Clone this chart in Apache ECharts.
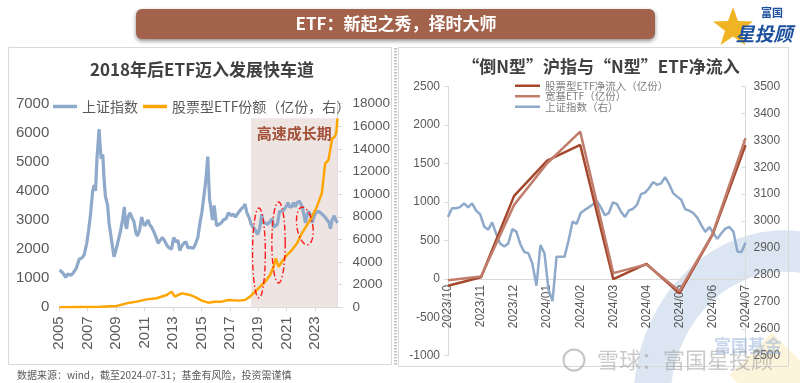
<!DOCTYPE html>
<html><head><meta charset="utf-8">
<script src="https://cdn.jsdelivr.net/npm/echarts@6/dist/echarts.min.js"></script>
<style>html,body{margin:0;padding:0;background:#fff}#c{width:800px;height:383px}</style>
</head><body><div id="c"></div>
<script>
const FONT = '"Liberation Sans","Noto Sans CJK SC",sans-serif';
const CJK = '"Noto Sans CJK SC","Liberation Sans",sans-serif';

// ---------- left chart data ----------
const leftTitle = '2018年后ETF迈入发展快车道';
const shIndexLong = [[2005.02,1282],[2005.25,1180],[2005.45,1030],[2005.6,1150],[2005.8,1100],[2005.95,1160],[2006.2,1350],[2006.4,1650],[2006.6,1700],[2006.75,1800],[2006.93,2200],[2007.05,2600],[2007.2,3200],[2007.35,4000],[2007.45,4200],[2007.55,4000],[2007.65,5100],[2007.8,6124],[2007.88,5500],[2007.95,5100],[2008.06,5250],[2008.15,4400],[2008.25,3800],[2008.4,3500],[2008.5,2900],[2008.65,2400],[2008.8,1900],[2008.85,1740],[2008.95,1900],[2009.1,2200],[2009.3,2600],[2009.45,3000],[2009.58,3450],[2009.67,2800],[2009.74,2700],[2009.85,3100],[2009.97,3250],[2010.1,3100],[2010.25,2950],[2010.4,2550],[2010.5,2450],[2010.65,2650],[2010.8,3100],[2010.9,2900],[2011.02,2800],[2011.25,3000],[2011.35,2850],[2011.5,2750],[2011.65,2600],[2011.8,2420],[2011.95,2200],[2012.1,2300],[2012.25,2400],[2012.4,2300],[2012.55,2150],[2012.7,2050],[2012.9,2000],[2013.05,2400],[2013.2,2250],[2013.35,2300],[2013.48,1950],[2013.62,2100],[2013.75,2200],[2013.92,2250],[2014.05,2050],[2014.25,2050],[2014.45,2030],[2014.6,2200],[2014.75,2400],[2014.9,2900],[2015.03,3250],[2015.2,3900],[2015.33,4450],[2015.45,5180],[2015.52,4300],[2015.58,3700],[2015.7,3300],[2015.78,3000],[2015.9,3500],[2015.98,3550],[2016.07,2800],[2016.2,2750],[2016.4,2900],[2016.55,3000],[2016.75,3050],[2016.9,3250],[2017.1,3150],[2017.25,3200],[2017.4,3100],[2017.6,3250],[2017.8,3380],[2017.96,3450],[2018.07,3550],[2018.2,3250],[2018.35,3100],[2018.5,2850],[2018.65,2750],[2018.8,2650],[2018.95,2500],[2019.1,2700],[2019.25,3200],[2019.35,2900],[2019.5,2900],[2019.65,2850],[2019.84,2950],[2019.98,3050],[2020.08,2750],[2020.2,2800],[2020.35,2850],[2020.5,3300],[2020.65,3300],[2020.8,3350],[2020.95,3450],[2021.1,3600],[2021.2,3450],[2021.35,3450],[2021.49,3600],[2021.6,3450],[2021.75,3600],[2021.9,3650],[2022.0,3600],[2022.1,3450],[2022.25,3100],[2022.32,2900],[2022.45,3200],[2022.54,3300],[2022.7,3150],[2022.8,2900],[2022.92,3100],[2023.05,3250],[2023.25,3300],[2023.36,3350],[2023.5,3200],[2023.7,3100],[2023.85,3000],[2024.0,2900],[2024.08,2700],[2024.2,3000],[2024.35,3150],[2024.45,3000],[2024.58,2900]];
const etfShares = [[2005.0,0],[2007.9,50],[2009.04,115],[2009.74,350],[2010.45,500],[2011.15,700],[2011.85,800],[2012.56,1090],[2012.9,1380],[2013.13,940],[2013.6,1240],[2014.2,1090],[2014.64,850],[2015.03,590],[2015.49,410],[2015.96,500],[2016.43,500],[2016.9,640],[2017.6,590],[2018.07,640],[2018.43,940],[2018.78,1380],[2019.14,1820],[2019.49,2260],[2019.84,2850],[2020.08,3590],[2020.24,4330],[2020.43,3590],[2020.67,4030],[2021.02,4620],[2021.37,5060],[2021.73,5650],[2022.07,6540],[2022.43,7270],[2022.78,8000],[2023.13,8890],[2023.48,10100],[2023.71,12700],[2023.94,13000],[2024.2,14900],[2024.4,15100],[2024.5,15500],[2024.58,16700]];
const yearRange = [2005, 2024.58];
const growthPeriod = [2018.5, 2024.58];
const growthTop = 6500;
const growthLabel = '高速成长期';
// red dash-dot ellipses: centre year, centre value (left axis), half width (years), half height (value), tilt
const ellipseNotes = [
  {x:2019.05, y:1866, rx:0.45, ry:1546, tilt:0},
  {x:2020.43, y:2227, rx:0.47, ry:1392, tilt:0},
  {x:2022.28, y:2794, rx:0.56, ry:653, tilt:-0.15}
];

// ---------- right chart data ----------
const rightTitle = '“倒N型”沪指与“N型”ETF净流入';
const months = ['2023/10','2023/11','2023/12','2024/01','2024/02','2024/03','2024/04','2024/05','2024/06','2024/07'];
const stockEtfFlow = [-90,20,1078,1537,1740,-4,195,-190,570,1740];
const broadEtfFlow = [-20,30,961,1502,1913,74,185,-160,580,1827];
const shIndexDaily = [3015,3048,3048,3052,3066,3051,3066,3039,3025,2980,2968,2995,2952,2916,2906,2917,2970,2961,2914,2885,2880,2841,2760,2911,2880,2745,2703,2868,2868,2868,2929,2998,2990,3030,3041,3051,3062,3075,3052,3022,3030,3069,3064,3036,3015,3040,3045,3060,3100,3106,3122,3145,3135,3140,3163,3137,3104,3091,3079,3044,3039,3030,3013,2985,2960,2978,2955,2934,2955,2972,2978,2960,2886,2885,2920];
const flowRange = [-1000, 2500];

const chart = echarts.init(document.getElementById('c'), null, {renderer:'canvas'});
const gray = '#595959', lineGray = '#D9D9D9';
const cBlue = '#8EA9C9', cOrange = '#FFA500', cDark = '#A4472D', cLight = '#C07D6B';
const plain = v => String(v);
const g2 = {left:448, top:86.5, width:297.5, height:269.2};
// the month axis sits on the zero line of the flow axis
const zeroOffset = -g2.height * (0 - flowRange[0]) / (flowRange[1] - flowRange[0]);

chart.setOption({
  animation:false,
  backgroundColor:'#fff',
  textStyle:{fontFamily:FONT},
  grid:[
    {left:59.3, top:103.6, width:278.2, height:203.7},
    g2
  ],
  legend:[
    {left:48, top:94.5, itemGap:5, itemWidth:24, itemHeight:3.5, icon:'rect',
     textStyle:{fontSize:14, color:gray, fontFamily:CJK}, data:['上证指数','股票型ETF份额（亿份，右）']},
    {left:510, top:75.5, orient:'vertical', itemGap:0, itemWidth:25, itemHeight:2.5, icon:'rect',
     textStyle:{fontSize:10.5, color:'#7F7F7F', fontFamily:CJK}, data:['股票型ETF净流入（亿份）','宽基ETF（亿份）','上证指数（右）']}
  ],
  xAxis:[
    {gridIndex:0, type:'value', min:yearRange[0], max:yearRange[1], interval:2,
     axisLine:{show:true, onZero:false, lineStyle:{color:lineGray}}, axisTick:{show:true, length:4, lineStyle:{color:lineGray}},
     splitLine:{show:false}, axisLabel:{rotate:90, fontSize:15, color:gray, margin:9, showMaxLabel:false,
       formatter:v=>Number.isInteger(v)?String(v):''}},
    {gridIndex:1, type:'category', data:months, boundaryGap:false, position:'bottom', offset:zeroOffset,
     axisLine:{show:true, onZero:false, lineStyle:{color:lineGray}}, axisTick:{show:false},
     axisLabel:{rotate:90, fontSize:12, color:gray, margin:6, interval:0}},
    {gridIndex:1, type:'category', data:shIndexDaily.map((_,i)=>i), boundaryGap:false, show:false, position:'top'}
  ],
  yAxis:[
    {gridIndex:0, type:'value', min:0, max:7000, interval:1000, position:'left',
     axisLine:{show:false}, axisTick:{show:false}, splitLine:{show:false},
     axisLabel:{fontSize:15, color:gray, margin:10, formatter:plain}},
    {gridIndex:0, type:'value', min:0, max:18000, interval:2000, position:'right',
     axisLine:{show:true, lineStyle:{color:lineGray}}, axisTick:{show:true, length:5, lineStyle:{color:lineGray}}, splitLine:{show:false},
     axisLabel:{fontSize:13.5, color:gray, margin:15, formatter:plain}},
    {gridIndex:1, type:'value', min:flowRange[0], max:flowRange[1], interval:500, position:'left',
     axisLine:{show:true, lineStyle:{color:lineGray}}, axisTick:{show:true, length:4, lineStyle:{color:lineGray}}, splitLine:{show:false},
     axisLabel:{fontSize:12, color:gray, margin:8, formatter:plain}},
    {gridIndex:1, type:'value', min:2500, max:3500, interval:100, position:'right',
     axisLine:{show:true, lineStyle:{color:lineGray}}, axisTick:{show:true, inside:true, length:4, lineStyle:{color:lineGray}}, splitLine:{show:false},
     axisLabel:{fontSize:12, color:gray, margin:8, formatter:plain}}
  ],
  series:[
    {name:'_area', type:'line', xAxisIndex:0, yAxisIndex:0, data:[], z:1, silent:true,
     markArea:{silent:true, itemStyle:{color:'#EEE5E3'},
       label:{show:true, position:'insideTop', distance:8, color:'#A24F38', fontSize:15, fontWeight:'bold', fontFamily:CJK},
       data:[[{name:growthLabel, xAxis:growthPeriod[0], yAxis:0},{xAxis:growthPeriod[1], yAxis:growthTop}]]}},
    {name:'上证指数', type:'line', xAxisIndex:0, yAxisIndex:0, data:shIndexLong, showSymbol:false, z:3,
     lineStyle:{color:cBlue, width:3.2}, itemStyle:{color:cBlue}},
    {name:'股票型ETF份额（亿份，右）', type:'line', xAxisIndex:0, yAxisIndex:1, data:etfShares, showSymbol:false, z:4,
     lineStyle:{color:cOrange, width:2.5}, itemStyle:{color:cOrange}},
    {name:'上证指数（右）', type:'line', xAxisIndex:2, yAxisIndex:3, data:shIndexDaily, showSymbol:false, z:3,
     lineStyle:{color:cBlue, width:2.5}, itemStyle:{color:cBlue}},
    {name:'股票型ETF净流入（亿份）', type:'line', xAxisIndex:1, yAxisIndex:2, data:stockEtfFlow, showSymbol:false, z:4,
     lineStyle:{color:cDark, width:2.5}, itemStyle:{color:cDark}},
    {name:'宽基ETF（亿份）', type:'line', xAxisIndex:1, yAxisIndex:2, data:broadEtfFlow, showSymbol:false, z:4,
     lineStyle:{color:cLight, width:2.5}, itemStyle:{color:cLight}}
  ]
});

// ---------- decorations ----------
function starPoints(cx, cy, ro, ri){
  const p=[]; for(let i=0;i<10;i++){const a=-Math.PI/2+i*Math.PI/5; const r=i%2?ri:ro; p.push([cx+r*Math.cos(a), cy+r*Math.sin(a)]);} return p;
}
const ellipses = ellipseNotes.map(e=>{
  const c = chart.convertToPixel({xAxisIndex:0, yAxisIndex:0},[e.x,e.y]);
  const q = chart.convertToPixel({xAxisIndex:0, yAxisIndex:0},[e.x+e.rx,e.y+e.ry]);
  const rx = Math.abs(q[0]-c[0]), ry = Math.abs(q[1]-c[1]);
  const pts=[];
  for(let i=0;i<72;i++){const t=i/72*2*Math.PI; const x=rx*Math.cos(t), y=ry*Math.sin(t);
    pts.push([c[0]+x*Math.cos(e.tilt)-y*Math.sin(e.tilt), c[1]+x*Math.sin(e.tilt)+y*Math.cos(e.tilt)]);}
  return {type:'polygon', z:10, silent:true, shape:{points:pts}, style:{fill:'none', stroke:'#FF1A1A', lineWidth:1.4, lineDash:[6,2.5,1.5,2.5]}};
});

const graphics = [
  // watermark shapes (behind)
  {type:'arc', z:0, silent:true, x:785, y:400, scaleY:1.12, shape:{cx:0, cy:0, r:133, startAngle:Math.PI*0.9, endAngle:Math.PI*2}, style:{stroke:'#DCE6F2', lineWidth:37, fill:'none'}},
  {type:'rect', z:0, silent:true, x:772, y:375, rotation:Math.PI/4, shape:{x:-30, y:-30, width:60, height:60}, style:{fill:'#FDF4DC'}},
  // panels
  {type:'rect', z:0, silent:true, shape:{x:8.5, y:47.5, width:383, height:317}, style:{fill:'none', stroke:lineGray, lineWidth:1}},
  {type:'rect', z:0, silent:true, shape:{x:398.5, y:47.5, width:390, height:319}, style:{fill:'none', stroke:lineGray, lineWidth:1}},
  {type:'line', z:0, silent:true, shape:{x1:395.5, y1:48, x2:395.5, y2:366}, style:{stroke:'#BFBFBF', lineWidth:3, lineDash:[1.5,1.5]}},
  // header bar
  {type:'rect', z:5, silent:true, shape:{x:136, y:9, width:519, height:30, r:6}, style:{fill:'#A3624B', shadowBlur:4, shadowOffsetY:2, shadowColor:'rgba(0,0,0,0.45)'}},
  {type:'text', z:6, silent:true, x:396, y:24, style:{text:'ETF：新起之秀，择时大师', fill:'#fff', font:'bold 17px '+CJK, textAlign:'center', textVerticalAlign:'middle'}},
  // logo
  {type:'polygon', z:5, silent:true, shape:{points:starPoints(733, 28, 21, 8.5)}, style:{fill:'#F0B323'}},
  {type:'text', z:6, silent:true, x:772, y:13, style:{text:'富国', fill:'#1C4F9C', font:'bold 11px '+CJK, textAlign:'center', textVerticalAlign:'middle'}},
  {type:'text', z:6, silent:true, x:764, y:34, style:{text:'星投顾', fill:'#1C4F9C', font:'italic bold 19px '+CJK, textAlign:'center', textVerticalAlign:'middle'}},
  // chart titles
  {type:'text', z:6, silent:true, x:202, y:70, style:{text:leftTitle, fill:'#404040', font:'bold 17px '+CJK, textAlign:'center', textVerticalAlign:'middle'}},
  {type:'text', z:6, silent:true, x:601, y:67, style:{text:rightTitle, fill:'#404040', font:'bold 17px '+CJK, textAlign:'center', textVerticalAlign:'middle'}},
  // footnote
  {type:'text', z:6, silent:true, x:17, y:375, style:{text:'数据来源：wind，截至2024-07-31；基金有风险，投资需谨慎', fill:gray, font:'10px '+CJK, textAlign:'left', textVerticalAlign:'middle'}},
  // watermark text
  {type:'text', z:20, silent:true, x:748, y:346, style:{text:'富国基金', fill:'rgba(130,165,210,0.45)', font:'bold 17px '+CJK, textAlign:'center', textVerticalAlign:'middle'}},
  {type:'circle', z:20, silent:true, shape:{cx:574, cy:360, r:10.5}, style:{fill:'none', stroke:'rgba(150,150,150,0.55)', lineWidth:2}},
  {type:'text', z:20, silent:true, x:597, y:360, style:{text:'雪球：富国星投顾', fill:'rgba(150,150,150,0.5)', font:'22px '+CJK, textAlign:'left', textVerticalAlign:'middle'}}
].concat(ellipses);

chart.setOption({graphic:{elements:graphics}});
</script>
</body></html>
